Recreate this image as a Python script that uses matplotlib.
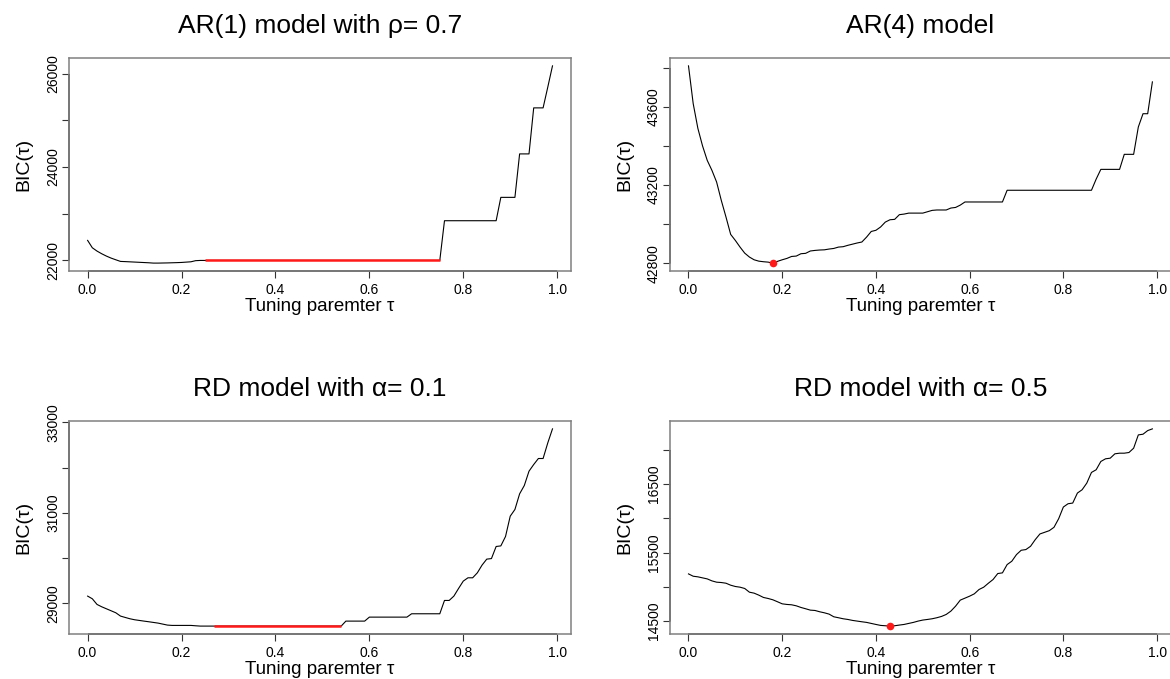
#!/usr/bin/env python

import matplotlib

matplotlib.use("Agg")
import matplotlib.pyplot as plt
import numpy as np

plt.rcParams["font.family"] = ["Liberation Sans", "DejaVu Sans"]

# grid of tuning parameters tau = 0.00, 0.01, ..., 0.99
tau = np.round(np.linspace(0.0, 0.99, 100), 2)

# BIC values
bic_ar1 = (
    [22429, 22271, 22200, 22143, 22093, 22050, 22014, 21979, 21975, 21970,
     21965, 21960, 21955, 21950, 21943, 21943, 21945, 21947, 21950, 21953,
     21957, 21964, 21971, 21995, 22000]
    + [22000] * 51
    + [22850] * 12
    + [23350] * 4
    + [24280] * 3
    + [25265] * 3
    + [25710, 26164]
)

bic_ar4 = (
    [43810, 43617, 43490, 43400, 43326, 43275, 43215, 43121, 43036, 42947,
     42916, 42882, 42851, 42831, 42817, 42810, 42807, 42805, 42800, 42809,
     42817, 42824, 42834, 42836, 42848, 42850, 42862, 42865, 42867, 42868,
     42872, 42875, 42882, 42884, 42891, 42897, 42903, 42908, 42933, 42962,
     42968, 42985, 43010, 43022, 43024, 43048, 43051, 43056, 43056, 43056,
     43056, 43063, 43070, 43072, 43072, 43072, 43082, 43085, 43097, 43113]
    + [43113] * 8
    + [43173] * 19
    + [43230]
    + [43280] * 5
    + [43357] * 3
    + [43497, 43565, 43565, 43728]
)

bic_rd1 = (
    [29162, 29103, 28978, 28926, 28882, 28838, 28794, 28721, 28691, 28662,
     28640, 28625, 28610, 28596, 28581, 28566, 28544, 28522, 28515, 28515,
     28515, 28515, 28515, 28507, 28500, 28500, 28500]
    + [28500] * 28
    + [28610] * 5
    + [28698] * 9
    + [28772] * 7
    + [29066, 29066, 29162, 29331, 29493, 29566, 29566, 29676, 29846, 29978,
       29990, 30257, 30270, 30478, 30926, 31074, 31419, 31603, 31919, 32066,
       32199, 32199, 32544, 32853]
)

bic_rd5 = [
    15189, 15155, 15146, 15131, 15116, 15087, 15068, 15063, 15053, 15024,
    15005, 14995, 14976, 14922, 14908, 14879, 14845, 14830, 14811, 14782,
    14752, 14743, 14738, 14723, 14699, 14680, 14660, 14655, 14636, 14621,
    14602, 14563, 14549, 14534, 14524, 14510, 14500, 14490, 14481, 14466,
    14451, 14437, 14432, 14427, 14432, 14442, 14451, 14466, 14481, 14500,
    14515, 14524, 14534, 14549, 14568, 14597, 14646, 14718, 14806, 14835,
    14864, 14898, 14961, 14995, 15053, 15107, 15194, 15204, 15325, 15374,
    15471, 15534, 15544, 15592, 15689, 15772, 15796, 15820, 15869, 15995,
    16165, 16213, 16223, 16369, 16417, 16514, 16670, 16709, 16830, 16869,
    16878, 16942, 16951, 16951, 16961, 17024, 17218, 17228, 17281, 17306,
]

titles = [
    "AR(1) model with \u03c1= 0.7",
    "AR(4) model",
    "RD model with \u03b1= 0.1",
    "RD model with \u03b1= 0.5",
]

x_ticks = [0.0, 0.2, 0.4, 0.6, 0.8, 1.0]
x_ticklabels = ["0.0", "0.2", "0.4", "0.6", "0.8", "1.0"]

ar1_yticks = [22000, 23000, 24000, 25000, 26000]
ar1_ylabels = ["22000", "", "24000", "", "26000"]
ar4_yticks = [42800, 43000, 43200, 43400, 43600, 43800]
ar4_ylabels = ["42800", "", "43200", "", "43600", ""]
rd1_yticks = [29000, 30000, 31000, 32000, 33000]
rd1_ylabels = ["29000", "", "31000", "", "33000"]
rd5_yticks = [14500, 15000, 15500, 16000, 16500, 17000]
rd5_ylabels = ["14500", "", "15500", "", "16500", ""]

# flat stretch of minimal BIC highlighted in red
ar1_flat = (0.25, 0.75)
rd1_flat = (0.27, 0.54)


def draw_panel(ax, bic, title, yticks, ylabels, flat=None, mark_min=False):
    bic = np.asarray(bic, dtype=float)
    ax.plot(tau, bic, color="black", lw=0.8)
    if flat is not None:
        sel = (tau >= flat[0] - 1e-9) & (tau <= flat[1] + 1e-9)
        ax.plot(tau[sel], bic[sel], color="#ff1a1a", lw=1.8, solid_capstyle="butt")
    if mark_min:
        i = np.argmin(bic)
        ax.plot(tau[i], bic[i], "o", color="#ff1a1a", ms=5.5, mec="none")

    ax.margins(x=0.04, y=0.04)
    ax.set_xticks(x_ticks)
    ax.set_xticklabels(x_ticklabels, fontsize=10)
    ax.set_yticks(yticks)
    ax.set_yticklabels(ylabels, fontsize=10, rotation=90, va="center")
    ax.tick_params(axis="both", length=5, width=0.8, color="#333333")
    ax.tick_params(axis="x", pad=3.5)
    ax.tick_params(axis="y", pad=1.5)

    for sp in ax.spines.values():
        sp.set_color("#808080")
        sp.set_linewidth(1.1)

    # R-style axis lines from first to last tick
    x0, x1 = ax.get_xlim()
    y0, y1 = ax.get_ylim()
    ax.plot([x_ticks[0], x_ticks[-1]], [y0, y0], color="#333333", lw=1.1,
            clip_on=False, solid_capstyle="butt")
    ax.plot([x0, x0], [yticks[0], yticks[-1]], color="#333333", lw=1.1,
            clip_on=False, solid_capstyle="butt")
    ax.set_xlim(x0, x1)
    ax.set_ylim(y0, y1)

    ax.set_xlabel("Tuning paremter \u03c4", fontsize=13.5)
    ax.xaxis.label.set_va("baseline")
    ax.xaxis.set_label_coords(0.5, -0.188)
    ax.set_ylabel("BIC(\u03c4)", fontsize=14)
    ax.yaxis.label.set_va("center")
    ax.yaxis.set_label_coords(-0.09, 0.5)
    ax.text(0.5, 1.115, title, transform=ax.transAxes, ha="center",
            va="baseline", fontsize=19)


fig = plt.figure(figsize=(11.7, 6.79), dpi=100)
ax1 = fig.add_axes([0.0590, 0.6009, 0.4291, 0.3137])
ax2 = fig.add_axes([0.5726, 0.6009, 0.4282, 0.3137])
ax3 = fig.add_axes([0.0590, 0.0663, 0.4291, 0.3137])
ax4 = fig.add_axes([0.5726, 0.0663, 0.4282, 0.3137])

draw_panel(ax1, bic_ar1, titles[0], ar1_yticks, ar1_ylabels, flat=ar1_flat)
draw_panel(ax2, bic_ar4, titles[1], ar4_yticks, ar4_ylabels, mark_min=True)
draw_panel(ax3, bic_rd1, titles[2], rd1_yticks, rd1_ylabels, flat=rd1_flat)
draw_panel(ax4, bic_rd5, titles[3], rd5_yticks, rd5_ylabels, mark_min=True)

fig.savefig("out.png", dpi=100)
